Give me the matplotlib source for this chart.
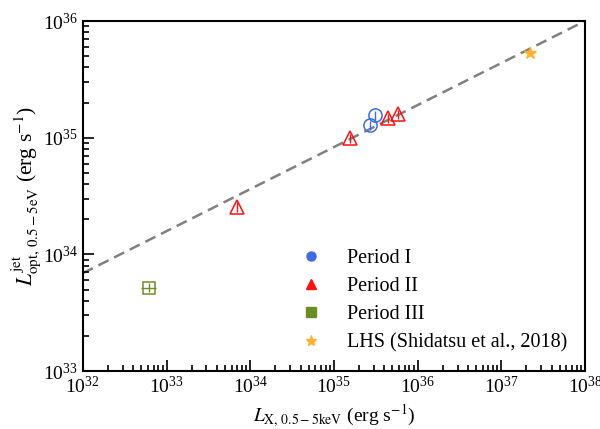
import numpy as np
import matplotlib
matplotlib.use("Agg")
import matplotlib.pyplot as plt
from matplotlib.lines import Line2D

plt.rcParams['font.family'] = ['Liberation Serif', 'DejaVu Serif']
plt.rcParams['mathtext.fontset'] = 'stix'

# period I
p1_lx = [2.7e35, 3.1e35]
p1_lopt = [1.28e35, 1.55e35]
p1_err = [0.12e35, 0.15e35]

# period II
p2_lx = [6.9e33, 1.55e35, 4.4e35, 5.8e35]
p2_lopt = [2.57e34, 0.99e35, 1.47e35, 1.59e35]
p2_err = [0.25e34, 0.09e35, 0.13e35, 0.14e35]

# period III
p3_lx = [6.2e32]
p3_lopt = [5.2e33]
p3_xerr = [1.3e32]
p3_err = [0.45e33]

# LHS, Shidatsu et al. 2018
lhs_lx = [2.2e37]
lhs_lopt = [5.3e35]

# dashed relation
line_x = [1e32, 1e38]
line_y = [6.9e33, 1e36]

c1 = '#4169E1'
c2 = '#FF1010'
c3 = '#6B8E23'
c4 = '#FFB02E'

fig = plt.figure(figsize=(6.0, 4.29), dpi=100)
ax = fig.add_axes([0.138, 0.135, 0.837, 0.816])

ax.plot(line_x, line_y, ls=(0, (4.5, 2.5)), color='gray', lw=1.8, zorder=1)

ax.errorbar(p1_lx, p1_lopt, yerr=p1_err, fmt='o', ms=9.5, mfc='none', mec=c1,
            ecolor=c1, elinewidth=1, capsize=0, mew=1.1, zorder=3)
ax.errorbar(p2_lx, p2_lopt, yerr=p2_err, fmt='^', ms=9.5, mfc='none', mec=c2,
            ecolor=c2, elinewidth=1, capsize=0, mew=1.1, zorder=3)
ax.errorbar(p3_lx, p3_lopt, xerr=p3_xerr, yerr=p3_err, fmt='s', ms=8, mfc='none', mec=c3,
            ecolor=c3, elinewidth=1, capsize=0, mew=1.1, zorder=3)
ax.plot(lhs_lx, lhs_lopt, '*', ms=9, color=c4, zorder=3)

ax.set_xscale('log')
ax.set_yscale('log')
ax.set_xlim(1e32, 1e38)
ax.set_ylim(1e33, 1e36)

ax.tick_params(which='both', direction='in', labelsize=14, width=1.2)
ax.tick_params(which='major', length=8)
ax.tick_params(which='minor', length=4)
for s in ax.spines.values():
    s.set_linewidth(1.5)

ax.set_xlabel(r'$L_{\rm X,\,0.5-5keV}$ (erg s$^{-1}$)', fontsize=14)
ax.set_ylabel(r'$L^{\rm jet}_{\rm opt,\,0.5-5eV}$ (erg s$^{-1}$)', fontsize=15.5, labelpad=0)

handles = [
    Line2D([], [], ls='none', marker='o', ms=6.5, color=c1),
    Line2D([], [], ls='none', marker='^', ms=6.5, color=c2),
    Line2D([], [], ls='none', marker='s', ms=6.5, color=c3),
    Line2D([], [], ls='none', marker='*', ms=8, color=c4),
]
labels = ['Period I', 'Period II', 'Period III', 'LHS (Shidatsu et al., 2018)']
ax.legend(handles, labels, loc='lower right', frameon=False, fontsize=14.5,
          labelspacing=0.46, handletextpad=0.75, borderaxespad=0.5)

fig.savefig('out.png', dpi=100)
